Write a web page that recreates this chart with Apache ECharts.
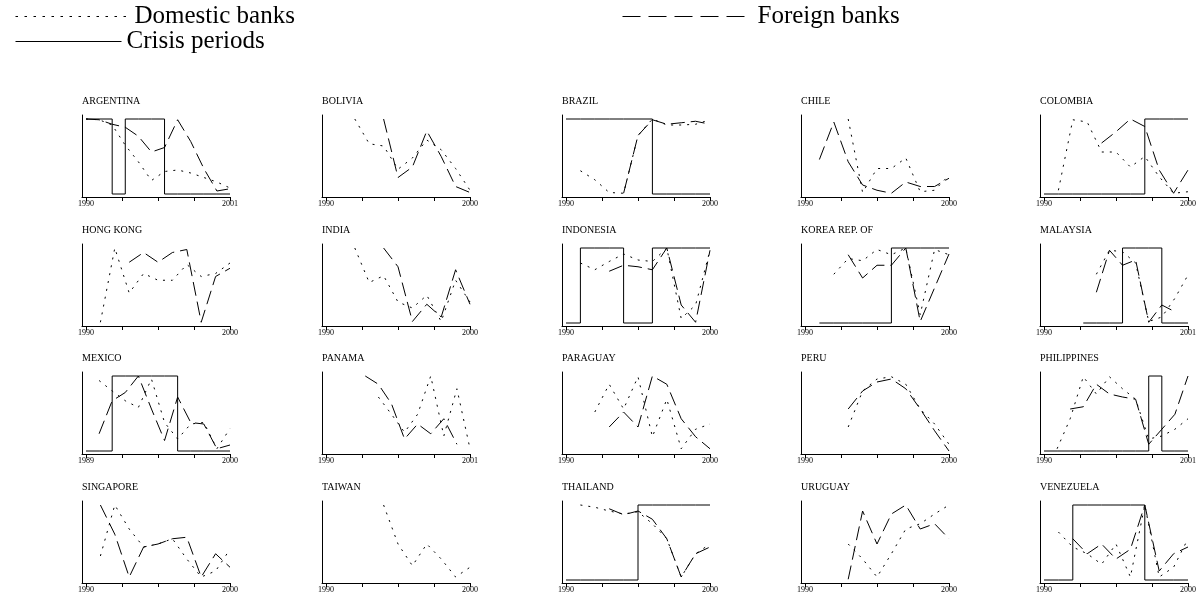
<!DOCTYPE html>
<html><head><meta charset="utf-8">
<script src="https://cdn.jsdelivr.net/npm/echarts@6/dist/echarts.min.js"></script>
<style>html,body{margin:0;padding:0;background:#fff}#c{width:1197px;height:605px}</style>
</head><body><div id="c"></div>
<script>
// ---- data (values on a relative 0-100 scale per panel; crisis 1 = in crisis) ----
const countries = ['ARGENTINA','BOLIVIA','BRAZIL','CHILE','COLOMBIA',
  'HONG KONG','INDIA','INDONESIA','KOREA REP. OF','MALAYSIA',
  'MEXICO','PANAMA','PARAGUAY','PERU','PHILIPPINES',
  'SINGAPORE','TAIWAN','THAILAND','URUGUAY','VENEZUELA'];
const startYears = [1990,1990,1990,1990,1990, 1990,1990,1990,1990,1990, 1989,1990,1990,1990,1990, 1990,1990,1990,1990,1990];
const endYears   = [2001,2000,2000,2000,2000, 2000,2000,2000,2000,2001, 2000,2001,2000,2000,2001, 2000,2000,2000,2000,2000];

const domARG = [100,99,92,65,43,18,30,32,28,22,16,8];
const forARG = [100,99,93,89,77,56,62,99,70,34,4,7];
const crisARG = [1,1,0,1,1,1,0,0,0,0,0,0];

const domBOL = [null,null,100,67,64,33,48,72,59,34,5];
const forBOL = [null,null,null,null,100,22,36,84,50,10,2];

const domBRA = [null,31,19,2,1,78,100,92,92,93,99];
const forBRA = [null,null,null,null,1,78,99,93,95,97,93];
const crisBRA = [1,1,1,1,1,1,0,0,0,0,0];

const domCHL = [null,null,null,100,2,34,34,48,3,5,25];
const forCHL = [null,46,96,43,12,5,1,16,10,10,21];

const domCOL = [null,5,99,96,56,56,36,50,23,1,3];
const forCOL = [null,null,null,null,68,83,100,90,32,1,32];
const crisCOL = [0,0,0,0,0,0,0,1,1,1,1];

const domHKG = [null,1,100,40,66,57,57,78,62,66,80];
const forHKG = [null,null,null,81,94,81,94,98,1,62,73];

const domIND = [null,null,100,54,63,28,20,37,2,57,28];
const forIND = [null,null,null,null,100,75,2,25,8,71,25];

const domIDN = [null,80,71,82,92,84,82,100,6,24,97];
const forIDN = [null,null,null,69,77,75,71,100,24,1,97];
const crisIDN = [0,1,1,1,0,0,1,1,1,1,1];

const domKOR = [null,null,65,86,83,98,91,100,11,98,91];
const forKOR = [null,null,null,91,60,77,77,100,2,47,92];
const crisKOR = [null,0,0,0,0,0,1,1,1,1,1];

const domMYS = [null,null,null,null,65,97,95,80,2,8,33,64];
const forMYS = [null,null,null,null,41,97,77,84,1,24,15,null];
const crisMYS = [null,null,null,0,0,0,1,1,1,0,0,0];

const domMEX = [null,94,80,67,58,96,38,16,36,38,3,30];
const forMEX = [null,23,67,78,100,56,14,72,38,36,3,8];
const crisMEX = [0,0,1,1,1,1,1,0,0,0,0,0];

const domPAN = [null,null,null,null,72,49,25,49,100,20,83,3];
const forPAN = [null,null,null,100,89,63,16,36,23,43,9,null];

const domPRY = [null,null,52,89,56,99,19,69,3,29,36];
const forPRY = [null,null,null,32,52,32,100,89,43,19,3];

const domPER = [null,null,null,32,80,96,99,89,56,36,9];
const forPER = [null,null,null,56,80,92,96,83,56,27,0];

const domPHL = [null,3,43,99,76,99,83,69,16,20,29,43];
const forPHL = [null,null,56,59,89,76,72,69,9,29,49,100];
const crisPHL = [0,0,0,0,0,0,0,0,1,0,0,0];

const domSGP = [null,32,100,68,44,48,55,28,4,12,41];
const forSGP = [null,100,61,4,44,48,55,57,4,35,17];

const domTWN = [null,null,null,null,100,48,19,48,28,4,17];

const domTHA = [null,100,97,92,88,91,75,55,4,35,48];
const forTHA = [null,null,null,95,87,92,81,55,4,35,44];
const crisTHA = [0,0,0,0,0,1,1,1,1,1,1];

const domURY = [null,null,null,48,28,4,35,68,75,88,100];
const forURY = [null,null,null,1,92,48,88,100,68,75,55];

const domVEN = [null,64,44,35,21,48,4,100,4,17,55];
const forVEN = [null,null,55,35,48,28,41,100,12,35,44];
const crisVEN = [0,0,1,1,1,1,1,0,0,0,0];

const domestic = [domARG,domBOL,domBRA,domCHL,domCOL,domHKG,domIND,domIDN,domKOR,domMYS,
  domMEX,domPAN,domPRY,domPER,domPHL,domSGP,domTWN,domTHA,domURY,domVEN];
const foreign = [forARG,forBOL,forBRA,forCHL,forCOL,forHKG,forIND,forIDN,forKOR,forMYS,
  forMEX,forPAN,forPRY,forPER,forPHL,forSGP,null,forTHA,forURY,forVEN];
const crisis = [crisARG,null,crisBRA,null,crisCOL,null,null,crisIDN,crisKOR,crisMYS,
  crisMEX,null,null,null,crisPHL,null,null,crisTHA,null,crisVEN];

// ---- layout ----
const colLeft = [82, 322, 562, 801, 1040];
const rowTop = [115, 244, 372, 501];
const panelW = 148, panelH = 82;
const SERIF = 'Liberation Serif';
const DOT = [2, 6], DASH = [14, 6];

const chart = echarts.init(document.getElementById('c'), null, {renderer: 'canvas'});
const grid = [], xAxis = [], yAxis = [], series = [], title = [];

countries.forEach((name, i) => {
  const r = Math.floor(i / 5), c = i % 5;
  const s = startYears[i], e = endYears[i];
  const span = e - s;
  const years = [];
  for (let y = s; y <= e; y++) years.push(y);
  grid.push({left: colLeft[c], top: rowTop[r], width: panelW, height: panelH, containLabel: false, outerBoundsMode: 'none'});
  const ticks = [0,1,2,3,4].map(k => s + k * span / 4);
  xAxis.push({
    type: 'value', gridIndex: i, min: s - 4 * span / 144, max: e,
    axisLine: {show: true, onZero: false, lineStyle: {color: '#000', width: 1}},
    axisTick: {show: true, customValues: ticks, length: 4, lineStyle: {color: '#000', width: 1}},
    axisLabel: {show: true, customValues: [s, e], margin: 3, fontSize: 8, fontFamily: SERIF, color: '#000',
      formatter: v => String(Math.round(v))},
    splitLine: {show: false}
  });
  yAxis.push({
    type: 'value', gridIndex: i, min: -4, max: 100 + 400 / 75,
    axisLine: {show: true, onZero: false, lineStyle: {color: '#000', width: 1}},
    axisTick: {show: false}, axisLabel: {show: false}, splitLine: {show: false}
  });
  title.push({text: name, left: colLeft[c], top: rowTop[r] - 19, padding: 0,
    textStyle: {fontFamily: SERIF, fontSize: 10, fontWeight: 'normal', color: '#000'}});
  const mk = arr => years.map((y, k) => [y, arr[k] == null ? null : arr[k]]);
  if (crisis[i]) series.push({name: 'Crisis periods', type: 'line', xAxisIndex: i, yAxisIndex: i,
    step: 'end', symbol: 'none', silent: true, itemStyle: {color: '#000'},
    data: years.map((y, k) => [y, crisis[i][k] == null ? null : crisis[i][k] * 100]),
    lineStyle: {color: '#000', width: 1, type: 'solid'}, z: 1});
  series.push({name: 'Domestic banks', type: 'line', xAxisIndex: i, yAxisIndex: i,
    symbol: 'none', silent: true, data: mk(domestic[i]), itemStyle: {color: '#000'},
    lineStyle: {color: '#000', width: 1, type: DOT}, z: 2});
  if (foreign[i]) series.push({name: 'Foreign banks', type: 'line', xAxisIndex: i, yAxisIndex: i,
    symbol: 'none', silent: true, data: mk(foreign[i]), itemStyle: {color: '#000'},
    lineStyle: {color: '#000', width: 1, type: DASH}, z: 3});
});

const legendText = {fontFamily: SERIF, fontSize: 25, color: '#000'};
const hidden = {opacity: 0, color: 'rgba(0,0,0,0)', borderWidth: 0};
chart.setOption({
  animation: false,
  backgroundColor: '#fff',
  title: title,
  legend: [
    {data: ['Domestic banks'], left: 15, top: 4, itemWidth: 114, itemHeight: 14, selectedMode: false,
      padding: 0, itemStyle: hidden, lineStyle: {type: [2.5, 6.5], width: 1, color: '#000'}, textStyle: legendText},
    {data: ['Foreign banks'], left: 622, top: 4, itemWidth: 130, itemHeight: 14, selectedMode: false,
      padding: 0, itemStyle: hidden, lineStyle: {type: [18, 8], width: 1, color: '#000'}, textStyle: legendText},
    {data: ['Crisis periods'], left: 15, top: 29, itemWidth: 106, itemHeight: 14, selectedMode: false,
      padding: 0, itemStyle: hidden, lineStyle: {type: 'solid', width: 1, color: '#000'}, textStyle: legendText}
  ],
  grid: grid, xAxis: xAxis, yAxis: yAxis, series: series
});
</script></body></html>
